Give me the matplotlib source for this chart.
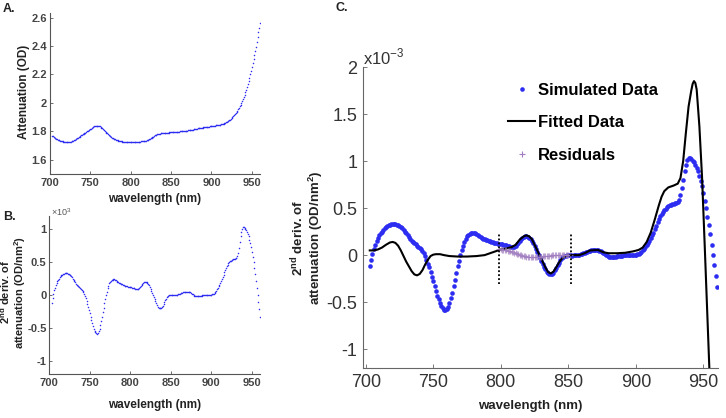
import matplotlib

matplotlib.use("Agg")
import matplotlib.pyplot as plt
import numpy as np
from matplotlib.lines import Line2D

plt.rcParams["font.family"] = ["Liberation Sans", "DejaVu Sans"]
plt.rcParams["mathtext.fontset"] = "custom"
plt.rcParams["mathtext.rm"] = "Liberation Sans"
plt.rcParams["mathtext.bf"] = "Liberation Sans:bold"

# wavelength grid of the measured/simulated spectra (nm)
wavelength = np.arange(703, 961)

# panel A: attenuation (OD)
attenuation = [
    1.768, 1.764, 1.760, 1.756, 1.752, 1.748, 1.745, 1.742, 1.739, 1.736,
    1.734, 1.732, 1.730, 1.729, 1.728, 1.727, 1.726, 1.725, 1.725, 1.725,
    1.725, 1.726, 1.727, 1.728, 1.730, 1.732, 1.735, 1.738, 1.741, 1.744,
    1.747, 1.751, 1.755, 1.759, 1.763, 1.767, 1.771, 1.775, 1.779, 1.783,
    1.787, 1.791, 1.795, 1.799, 1.803, 1.807, 1.811, 1.815, 1.819, 1.823,
    1.827, 1.831, 1.835, 1.838, 1.840, 1.841, 1.841, 1.840, 1.838, 1.835,
    1.831, 1.826, 1.821, 1.815, 1.809, 1.803, 1.797, 1.791, 1.785, 1.779,
    1.774, 1.769, 1.764, 1.760, 1.756, 1.752, 1.749, 1.746, 1.743, 1.740,
    1.738, 1.736, 1.734, 1.732, 1.731, 1.730, 1.729, 1.728, 1.727, 1.726,
    1.725, 1.724, 1.724, 1.723, 1.723, 1.722, 1.722, 1.722, 1.722, 1.722,
    1.722, 1.722, 1.722, 1.723, 1.723, 1.724, 1.725, 1.726, 1.727, 1.728,
    1.729, 1.730, 1.731, 1.732, 1.733, 1.734, 1.735, 1.737, 1.739, 1.741,
    1.744, 1.747, 1.751, 1.755, 1.759, 1.763, 1.767, 1.771, 1.774, 1.777,
    1.779, 1.781, 1.783, 1.784, 1.785, 1.786, 1.787, 1.788, 1.788, 1.789,
    1.789, 1.790, 1.790, 1.791, 1.791, 1.792, 1.792, 1.793, 1.793, 1.794,
    1.794, 1.795, 1.795, 1.796, 1.796, 1.797, 1.798, 1.798, 1.799, 1.800,
    1.800, 1.801, 1.802, 1.802, 1.803, 1.804, 1.804, 1.805, 1.806, 1.807,
    1.808, 1.809, 1.810, 1.811, 1.812, 1.813, 1.815, 1.816, 1.817, 1.818,
    1.820, 1.821, 1.822, 1.823, 1.824, 1.825, 1.826, 1.827, 1.828, 1.829,
    1.830, 1.831, 1.832, 1.833, 1.834, 1.835, 1.836, 1.837, 1.838, 1.839,
    1.840, 1.841, 1.842, 1.843, 1.844, 1.845, 1.846, 1.847, 1.848, 1.850,
    1.851, 1.853, 1.855, 1.857, 1.860, 1.863, 1.866, 1.870, 1.874, 1.878,
    1.882, 1.887, 1.893, 1.899, 1.906, 1.913, 1.921, 1.929, 1.937, 1.946,
    1.956, 1.966, 1.977, 1.988, 2.000, 2.013, 2.027, 2.042, 2.058, 2.075,
    2.093, 2.112, 2.132, 2.153, 2.176, 2.200, 2.225, 2.251, 2.278, 2.306,
    2.335, 2.365, 2.396, 2.428, 2.461, 2.495, 2.530, 2.565,
]

# panels B and C: simulated 2nd derivative (x10^-3 OD/nm^2)
second_deriv = [
    -0.12, -0.05, 0.01, 0.07, 0.11, 0.15, 0.18, 0.21, 0.23, 0.25,
    0.27, 0.29, 0.30, 0.31, 0.32, 0.325, 0.33, 0.33, 0.33, 0.33,
    0.325, 0.32, 0.31, 0.30, 0.285, 0.27, 0.25, 0.23, 0.21, 0.19,
    0.17, 0.155, 0.14, 0.13, 0.115, 0.10, 0.09, 0.075, 0.06, 0.04,
    0.02, -0.01, -0.05, -0.09, -0.13, -0.18, -0.23, -0.28, -0.33, -0.38,
    -0.43, -0.47, -0.51, -0.54, -0.565, -0.58, -0.585, -0.575, -0.55, -0.51,
    -0.46, -0.40, -0.33, -0.26, -0.19, -0.12, -0.06, 0.0, 0.05, 0.10,
    0.14, 0.175, 0.20, 0.215, 0.225, 0.235, 0.24, 0.24, 0.235, 0.225,
    0.215, 0.205, 0.195, 0.185, 0.175, 0.17, 0.165, 0.16, 0.15, 0.145,
    0.14, 0.135, 0.13, 0.13, 0.125, 0.12, 0.12, 0.115, 0.115, 0.11,
    0.11, 0.105, 0.10, 0.095, 0.09, 0.085, 0.085, 0.09, 0.10, 0.115,
    0.13, 0.15, 0.17, 0.185, 0.195, 0.20, 0.20, 0.195, 0.185, 0.17,
    0.15, 0.125, 0.095, 0.065, 0.035, 0.005, -0.03, -0.06, -0.095, -0.125,
    -0.15, -0.175, -0.19, -0.20, -0.205, -0.20, -0.185, -0.16, -0.135, -0.11,
    -0.08, -0.055, -0.035, -0.02, -0.01, -0.005, 0.0, 0.0, 0.0, 0.0,
    -0.005, 0.0, 0.0, 0.0, 0.0, 0.005, 0.01, 0.015, 0.02, 0.025,
    0.03, 0.035, 0.04, 0.045, 0.05, 0.05, 0.05, 0.05, 0.05, 0.05,
    0.045, 0.04, 0.03, 0.02, 0.01, 0.0, -0.01, -0.015, -0.02, -0.02,
    -0.02, -0.015, -0.015, -0.01, -0.01, -0.01, -0.005, -0.005, 0.0, 0.0,
    0.0, 0.0, 0.0, 0.0, 0.0, 0.0, 0.005, 0.005, 0.01, 0.015,
    0.02, 0.035, 0.05, 0.065, 0.085, 0.105, 0.13, 0.155, 0.18, 0.21,
    0.24, 0.275, 0.31, 0.35, 0.385, 0.415, 0.44, 0.46, 0.48, 0.495,
    0.51, 0.52, 0.53, 0.535, 0.54, 0.545, 0.55, 0.555, 0.565, 0.59,
    0.64, 0.71, 0.80, 0.89, 0.96, 1.01, 1.03, 1.03, 1.02, 1.005,
    0.985, 0.96, 0.93, 0.89, 0.84, 0.79, 0.73, 0.66, 0.58, 0.50,
    0.41, 0.32, 0.22, 0.11, 0.0, -0.11, -0.22, -0.34,
]

# panel C: fitted 2nd derivative
fit_nm = [
    703, 706, 709, 712, 715, 718, 720, 722, 724, 726, 728, 730, 732, 734,
    736, 738, 740, 742, 744, 746, 748, 750, 752, 755, 758, 762, 768, 775,
    782, 788, 792, 796, 800, 804, 808, 811, 814, 817, 819, 821, 823, 825,
    827, 829, 831, 833, 835, 837, 839, 841, 843, 845, 848, 852, 858, 862,
    866, 872, 876, 880, 886, 892, 898, 902, 905, 908, 911, 914, 917, 919,
    921, 924, 928, 931, 933, 935, 937, 939, 941, 942, 943, 944, 945, 947,
    949, 950, 951, 952, 953, 954, 955,
]
fit_val = [
    0.05, 0.05, 0.06, 0.08, 0.11, 0.135, 0.14, 0.13, 0.10, 0.05, -0.01,
    -0.07, -0.12, -0.17, -0.205, -0.215, -0.20, -0.16, -0.10, -0.05, -0.01,
    0.005, 0.01, 0.01, 0.0, -0.01, -0.015, -0.015, -0.01, 0.0, 0.02, 0.04,
    0.06, 0.07, 0.085, 0.11, 0.165, 0.20, 0.21, 0.20, 0.17, 0.11, 0.05,
    -0.01, -0.07, -0.13, -0.18, -0.195, -0.175, -0.13, -0.08, -0.04, -0.01,
    0.0, 0.0, 0.02, 0.05, 0.055, 0.03, 0.02, 0.02, 0.025, 0.04, 0.055,
    0.08, 0.14, 0.24, 0.38, 0.53, 0.62, 0.68, 0.72, 0.74, 0.76, 0.82,
    1.00, 1.30, 1.58, 1.75, 1.82, 1.85, 1.83, 1.76, 1.37, 0.82, 0.45,
    0.08, -0.30, -0.68, -1.06, -1.44,
]

# panel C: residuals in the fitting window
resid_nm = np.arange(799, 852)
resid_val = [
    0.06, 0.06, 0.055, 0.055, 0.05, 0.05, 0.045, 0.045, 0.04, 0.035,
    0.03, 0.025, 0.02, 0.015, 0.01, 0.005, 0.0, -0.005, -0.01, -0.012,
    -0.015, -0.018, -0.02, -0.02, -0.022, -0.022, -0.022, -0.022, -0.02, -0.02,
    -0.018, -0.016, -0.014, -0.012, -0.01, -0.008, -0.006, -0.005, -0.004, -0.003,
    -0.002, -0.002, -0.001, -0.001, 0.0, 0.0, 0.0, 0.0, 0.0, 0.0,
    0.0, 0.0, 0.0,
]
window = [798.5, 852]

W, H = 726, 418
BLUE = "#2d2df2"
GREY = "#444444"
INK = "#222222"


def fx(x):
    return x / W


def fy(y):
    return 1 - y / H


fig = plt.figure(figsize=(W / 100, H / 100), dpi=100)


def style_small(ax):
    for s in ("top", "right"):
        ax.spines[s].set_visible(False)
    for s in ("left", "bottom"):
        ax.spines[s].set_color("#555555")
        ax.spines[s].set_linewidth(0.8)
    ax.tick_params(direction="in", length=2, width=0.6, colors="#555555",
                   labelsize=8, labelcolor=GREY, pad=3)
    ax.tick_params(axis="y", pad=2)
    for t in ax.get_xticklabels() + ax.get_yticklabels():
        t.set_fontweight("bold")


# ---- A ----
axA = fig.add_axes([fx(49.7), fy(174), fx(260 - 49.7), (174 - 13.3) / H])
axA.plot(wavelength, attenuation, ".", color=BLUE, ms=2.2, mew=0)
axA.set_xlim(700, 960)
axA.set_ylim(1.5, 2.63)
axA.set_xticks([700, 750, 800, 850, 900, 950])
axA.set_yticks([1.6, 1.8, 2.0, 2.2, 2.4, 2.6])
axA.set_yticklabels(["1.6", "1.8", "2", "2.2", "2.4", "2.6"])
style_small(axA)

# ---- B ----
axB = fig.add_axes([fx(49.3), fy(374), fx(260 - 49.3), (374 - 216) / H])
axB.plot(wavelength, second_deriv, ".", color=BLUE, ms=2.2, mew=0)
axB.set_xlim(700, 960)
axB.set_ylim(-1.2, 1.2)
axB.set_xticks([700, 750, 800, 850, 900, 950])
axB.set_yticks([-1, -0.5, 0, 0.5, 1])
axB.set_yticklabels(["-1", "-0.5", "0", "0.5", "1"])
style_small(axB)

# ---- C ----
axC = fig.add_axes([fx(363), fy(368), fx(718.3 - 363), (368 - 67) / H])
axC.plot(wavelength, second_deriv, "o", color=BLUE, ms=3.3, mew=0,
         zorder=2)
axC.plot(fit_nm, fit_val, "-", color="black", lw=1.5, zorder=3)
axC.plot(resid_nm, resid_val, "+", color="#a07cc0", ms=5, mew=0.8,
         alpha=0.7, zorder=4)
axC.vlines(window, -0.31, 0.22, colors="black", linestyles=(0, (1, 1.2)),
           lw=1.3, zorder=5)
axC.set_xlim(698, 961)
axC.set_ylim(-1.2, 2.0)
axC.set_xticks([700, 750, 800, 850, 900, 950])
axC.set_yticks([-1, -0.5, 0, 0.5, 1, 1.5, 2])
axC.set_yticklabels(["-1", "-0.5", "0", "0.5", "1", "1.5", "2"])
for s in ("top", "right"):
    axC.spines[s].set_visible(False)
for s in ("left", "bottom"):
    axC.spines[s].set_color("#666666")
    axC.spines[s].set_linewidth(0.8)
axC.tick_params(direction="in", length=3, width=0.6, colors="#666666",
                labelsize=13, labelcolor="#333333", pad=4)
axC.text(0.0, 1.0, "x10$^{-3}$", transform=axC.transAxes, fontsize=12,
         color="#333333", ha="left", va="bottom")

handles = [
    Line2D([], [], ls="none", marker="o", ms=3.3, mew=0, color=BLUE),
    Line2D([], [], color="black", lw=1.5),
    Line2D([], [], ls="none", marker="+", ms=5, mew=0.8, color="#a07cc0"),
]
axC.legend(handles, ["Simulated Data", "Fitted Data", "Residuals"],
           loc="upper left", bbox_to_anchor=(0.39, 0.97), frameon=False,
           prop={"weight": "bold", "size": 12}, handlelength=1.6,
           handletextpad=0.2, labelspacing=1.05, borderaxespad=0)

# ---- labels ----
fig.text(fx(24), fy(92), "Attenuation (OD)", rotation=90, ha="center",
         va="center", fontsize=8.5, fontweight="bold", color=INK)
fig.text(fx(155), fy(199), "wavelength (nm)", ha="center", va="center",
         fontsize=8.5, fontweight="bold", color=INK)
fig.text(fx(13), fy(292), "2$^{\\mathbf{nd}}$ deriv. of\nattenuation (OD/nm$^{\\mathbf{2}}$)",
         rotation=90, ha="center", va="center", fontsize=8,
         fontweight="bold", color=INK, linespacing=0.95)
fig.text(fx(155), fy(405), "wavelength (nm)", ha="center", va="center",
         fontsize=8.5, fontweight="bold", color=INK)
fig.text(fx(51), fy(212), "$\\times$10$^3$", ha="left", va="center",
         fontsize=6.5, color="#555555")
fig.text(fx(307), fy(238), "2$^{\\mathbf{nd}}$ deriv. of\nattenuation (OD/nm$^{\\mathbf{2}}$)",
         rotation=90, ha="center", va="center", fontsize=9.5,
         fontweight="bold", color=INK, linespacing=1.05)
fig.text(fx(530), fy(406), "wavelength (nm)", ha="center", va="center",
         fontsize=9.5, fontweight="bold", color=INK)

fig.text(fx(3), fy(9), "A.", ha="left", va="center", fontsize=9,
         fontweight="bold", color=INK)
fig.text(fx(3), fy(217), "B.", ha="left", va="center", fontsize=9,
         fontweight="bold", color=INK)
fig.text(fx(335), fy(8), "C.", ha="left", va="center", fontsize=9,
         fontweight="bold", color=INK)

fig.savefig("out.png", dpi=100)
